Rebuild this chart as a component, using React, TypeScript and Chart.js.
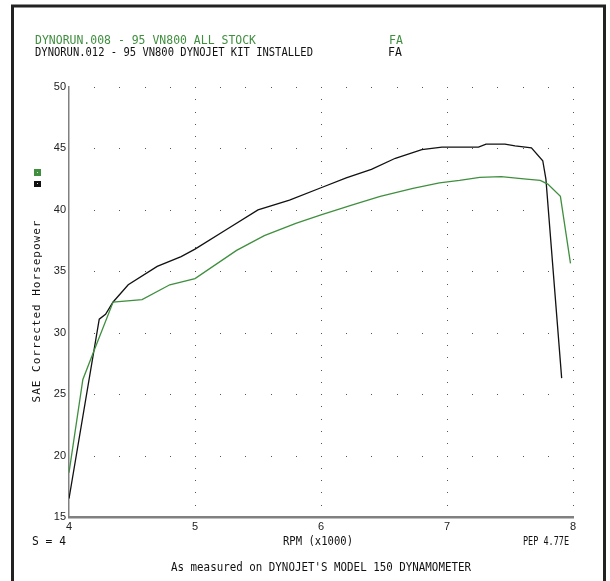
import React, { useEffect, useRef } from "react";
import { Chart, registerables } from "chart.js";

Chart.register(...registerables);

// ---- data ----
const stockLabel = "DYNORUN.008 - 95 VN800 ALL STOCK";
const kitLabel = "DYNORUN.012 - 95 VN800 DYNOJET KIT INSTALLED";
const stockRpm = [4.0, 4.11, 4.19, 4.35, 4.58, 4.8, 5.0, 5.33, 5.55, 5.8, 6.0, 6.25, 6.47, 6.73, 6.94, 7.1, 7.26, 7.43, 7.63, 7.74, 7.8, 7.9, 7.98];
const stockHp = [18.6, 26.2, 28.3, 32.5, 32.7, 33.9, 34.4, 36.7, 37.9, 38.9, 39.6, 40.4, 41.1, 41.75, 42.2, 42.4, 42.65, 42.7, 42.5, 42.4, 42.1, 41.1, 35.65];
const kitRpm = [4.0, 4.24, 4.29, 4.35, 4.47, 4.7, 4.89, 5.0, 5.25, 5.5, 5.75, 6.0, 6.2, 6.4, 6.59, 6.8, 6.96, 7.25, 7.31, 7.46, 7.54, 7.67, 7.76, 7.785, 7.91];
const kitHp = [16.5, 31.1, 31.5, 32.5, 33.9, 35.4, 36.2, 36.8, 38.4, 40.0, 40.8, 41.8, 42.6, 43.3, 44.2, 44.9, 45.1, 45.1, 45.35, 45.35, 45.2, 45.05, 44.0, 42.5, 26.3];
const xTickValues = [4, 5, 6, 7, 8];
const yTickValues = [15, 20, 25, 30, 35, 40, 45, 50];
const yTitle = "SAE Corrected Horsepower";
const xTitle = "RPM (x1000)";
const footLeft = "S = 4";
const footRight = "PEP 4.77E";
const footNote = "As measured on DYNOJET'S MODEL 150 DYNAMOMETER";

const GREEN = "#3f8f3f";
const BLACK = "#111111";
const MONO = "DejaVu Sans Mono";

const decorPlugin = {
  id: "decor",
  beforeDatasetsDraw(chart: any) {
    const { ctx } = chart;
    const xs = chart.scales.x;
    const ys = chart.scales.y;
    ctx.save();
    ctx.fillStyle = "#555";
    for (let i = 1; i < yTickValues.length; i++) {
      const py = Math.round(ys.getPixelForValue(yTickValues[i]));
      for (let r = 4.2; r <= 8.001; r += 0.2) {
        const px = Math.round(xs.getPixelForValue(r));
        ctx.fillRect(px, py, 1, 1);
      }
    }
    for (let i = 1; i < xTickValues.length; i++) {
      const px = Math.round(xs.getPixelForValue(xTickValues[i]));
      for (let h = 16; h <= 50; h += 1) {
        const py = Math.round(ys.getPixelForValue(h));
        ctx.fillRect(px, py, 1, 1);
      }
    }
    ctx.restore();
  },
  afterDraw(chart: any) {
    const { ctx } = chart;
    const ca = chart.chartArea;
    ctx.save();
    ctx.strokeStyle = "#222";
    ctx.lineWidth = 3;
    ctx.beginPath();
    ctx.moveTo(12.5, 600);
    ctx.lineTo(12.5, 6);
    ctx.lineTo(604.5, 6);
    ctx.lineTo(604.5, 600);
    ctx.stroke();

    ctx.textBaseline = "middle";
    ctx.textAlign = "left";
    ctx.font = `11.5px "${MONO}"`;
    ctx.fillStyle = GREEN;
    ctx.fillText(stockLabel, 35, 41, 221);
    ctx.fillText("FA", 389, 41);
    ctx.fillStyle = BLACK;
    ctx.fillText(kitLabel, 35, 53, 278);
    ctx.fillText("FA", 388, 53);

    ctx.fillStyle = GREEN;
    ctx.fillRect(34, 169, 7, 7);
    ctx.fillStyle = BLACK;
    ctx.fillRect(34, 181, 7, 6);
    ctx.fillStyle = "#dddddd";
    ctx.fillRect(37, 172, 1, 1);
    ctx.fillRect(37, 183, 1, 1);

    ctx.save();
    ctx.translate(37.5, (ca.top + ca.bottom) / 2 + 9);
    ctx.rotate(-Math.PI / 2);
    ctx.textAlign = "center";
    ctx.fillStyle = BLACK;
    ctx.font = `11px "${MONO}"`;
    (ctx as any).letterSpacing = "1px";
    ctx.fillText(yTitle, 0, 0, 186);
    (ctx as any).letterSpacing = "0px";
    ctx.restore();

    ctx.fillStyle = BLACK;
    ctx.font = `11.5px "${MONO}"`;
    ctx.textAlign = "left";
    ctx.fillText(footLeft, 32, 542, 34);
    ctx.textAlign = "center";
    ctx.fillText(xTitle, (ca.left + ca.right) / 2 - 3, 542, 70);
    ctx.textAlign = "left";
    ctx.fillText(footRight, 523, 542, 46);
    ctx.textAlign = "center";
    ctx.fillText(footNote, (ca.left + ca.right) / 2, 568, 300);
    ctx.restore();
  },
};

export default function App() {
  const ref = useRef<HTMLCanvasElement | null>(null);
  useEffect(() => {
    document.body.style.margin = "0";
    const canvas = ref.current;
    if (!canvas) return;
    const chart = new Chart(canvas, {
      type: "line",
      data: {
        datasets: [
          {
            label: stockLabel,
            data: stockRpm.map((r, i) => ({ x: r, y: stockHp[i] })),
            borderColor: GREEN,
            borderWidth: 1.3,
            pointRadius: 0,
            tension: 0,
            fill: false,
          },
          {
            label: kitLabel,
            data: kitRpm.map((r, i) => ({ x: r, y: kitHp[i] })),
            borderColor: BLACK,
            borderWidth: 1.3,
            pointRadius: 0,
            tension: 0,
            fill: false,
          },
        ],
      },
      options: {
        animation: false,
        responsive: false,
        devicePixelRatio: 1,
        layout: { padding: { top: 87, right: 37, left: 0, bottom: 0 } },
        plugins: { legend: { display: false }, tooltip: { enabled: false } },
        scales: {
          x: {
            type: "linear",
            min: 4,
            max: 8,
            afterFit: (s: any) => {
              s.height = 64;
            },
            afterBuildTicks: (s: any) => {
              s.ticks = xTickValues.map((v) => ({ value: v }));
            },
            ticks: {
              padding: 3,
              color: "#222",
              font: { family: "Liberation Sans", size: 11 },
              maxRotation: 0,
            },
            grid: { display: false, drawTicks: false },
            border: { display: true, color: "#808080", width: 2.5 },
          },
          y: {
            type: "linear",
            min: 15,
            max: 50,
            afterFit: (s: any) => {
              s.width = 69;
            },
            afterBuildTicks: (s: any) => {
              s.ticks = yTickValues.map((v) => ({ value: v }));
            },
            ticks: {
              padding: 3,
              color: "#222",
              font: { family: "Liberation Sans", size: 11 },
            },
            grid: { display: false, drawTicks: false },
            border: { display: true, color: "#808080", width: 1.5 },
          },
        },
      },
      plugins: [decorPlugin],
    });
    return () => chart.destroy();
  }, []);
  return (
    <div style={{ width: 610, height: 581, background: "#fff" }}>
      <canvas ref={ref} width={610} height={581} style={{ display: "block" }} />
    </div>
  );
}
